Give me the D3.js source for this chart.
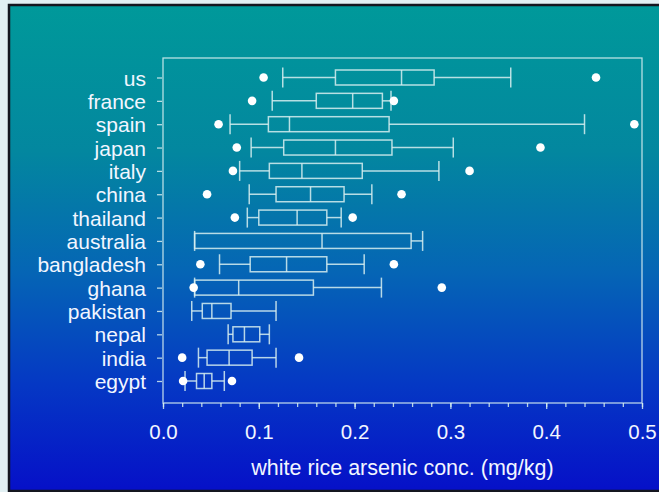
<!DOCTYPE html>
<html>
<head>
<meta charset="utf-8">
<script src="https://cdn.jsdelivr.net/npm/d3@7"></script>
<style>
  html, body { margin: 0; padding: 0; background: #e2f0f3; }
  svg { display: block; }
  text { font-family: Arial, "Liberation Sans", sans-serif; fill: #f2f6ff; }
</style>
</head>
<body>
<svg id="chart"></svg>
<script>
const WIDTH = 659;
const HEIGHT = 492;

// values (mg/kg)
const countries = ["us", "france", "spain", "japan", "italy", "china", "thailand",
  "australia", "bangladesh", "ghana", "pakistan", "nepal", "india", "egypt"];
const whiskerLow = [0.125, 0.114, 0.070, 0.092, 0.080, 0.090, 0.088, 0.033, 0.059, 0.033, 0.030, 0.068, 0.037, 0.023];
const q1 = [0.180, 0.160, 0.110, 0.126, 0.111, 0.118, 0.100, 0.033, 0.091, 0.033, 0.041, 0.073, 0.046, 0.035];
const median = [0.249, 0.198, 0.132, 0.180, 0.145, 0.154, 0.140, 0.166, 0.129, 0.079, 0.051, 0.085, 0.069, 0.043];
const q3 = [0.283, 0.229, 0.236, 0.239, 0.208, 0.189, 0.171, 0.259, 0.171, 0.157, 0.071, 0.101, 0.093, 0.051];
const whiskerHigh = [0.363, 0.238, 0.440, 0.303, 0.288, 0.218, 0.186, 0.271, 0.210, 0.228, 0.118, 0.111, 0.118, 0.064];
const outliers = [
  [0.105, 0.452],
  [0.093, 0.241],
  [0.058, 0.492],
  [0.077, 0.394],
  [0.073, 0.320],
  [0.046, 0.249],
  [0.075, 0.198],
  [],
  [0.039, 0.241],
  [0.032, 0.291],
  [],
  [],
  [0.020, 0.142],
  [0.021, 0.072],
];
const xTicks = [0, 0.1, 0.2, 0.3, 0.4, 0.5];
const xLabel = "white rice arsenic conc. (mg/kg)";

const rows = countries.map((name, i) => ({
  name,
  lo: whiskerLow[i],
  q1: q1[i],
  med: median[i],
  q3: q3[i],
  hi: whiskerHigh[i],
  out: outliers[i],
}));

const PLOT = { left: 163, right: 642, top: 58, bottom: 403 };
const LINE = "rgba(215, 238, 240, 0.85)";
const BOX_H = 15;
const CAP_H = 20;

const svg = d3.select("#chart").attr("width", WIDTH).attr("height", HEIGHT);

const grad = svg.append("defs").append("linearGradient")
  .attr("id", "bg").attr("x1", 0).attr("y1", 0).attr("x2", 0).attr("y2", 1);
[["0%", "#00999a"], ["30%", "#03879f"], ["55%", "#0565b5"], ["78%", "#0538c4"], ["100%", "#0610c8"]]
  .forEach(([o, c]) => grad.append("stop").attr("offset", o).attr("stop-color", c));

svg.append("rect")
  .attr("x", 9).attr("y", 5)
  .attr("width", WIDTH).attr("height", 486)
  .attr("fill", "url(#bg)")
  .attr("stroke", "#14161f").attr("stroke-width", 2.5);

const x = d3.scaleLinear().domain([0, 0.5]).range([PLOT.left, PLOT.right]);
const y = d3.scalePoint().domain(countries).range([77.5, 381]);

// frame
svg.append("rect")
  .attr("x", PLOT.left).attr("y", PLOT.top)
  .attr("width", PLOT.right - PLOT.left).attr("height", PLOT.bottom - PLOT.top)
  .attr("fill", "none").attr("stroke", LINE).attr("stroke-width", 1.3);

const styleAxis = (g) => {
  g.select(".domain").remove();
  g.selectAll("line").attr("stroke", LINE).attr("stroke-width", 1.3);
  g.selectAll("text").attr("fill", "#f2f6ff").attr("font-family", null);
};

// minor ticks
svg.append("g")
  .attr("transform", `translate(0,${PLOT.bottom})`)
  .call(d3.axisBottom(x).tickValues(d3.range(0, 0.51, 0.02)).tickSize(4).tickFormat(""))
  .call(styleAxis);

svg.append("g")
  .attr("transform", `translate(0,${PLOT.bottom})`)
  .call(d3.axisBottom(x).tickValues(xTicks).tickSize(6).tickPadding(15).tickFormat(d3.format(".1f")))
  .call(styleAxis)
  .call((g) => g.selectAll("text").attr("font-size", 20.5));

svg.append("g")
  .attr("transform", `translate(${PLOT.left - 1},0)`)
  .call(d3.axisLeft(y).tickSize(5).tickPadding(11))
  .call(styleAxis)
  .call((g) => g.selectAll("text").attr("font-size", 21).attr("dy", "0.36em"));

svg.append("text")
  .attr("x", (PLOT.left + PLOT.right) / 2)
  .attr("y", 475)
  .attr("text-anchor", "middle")
  .attr("font-size", 21.5)
  .text(xLabel);

const boxes = svg.append("g")
  .selectAll("g")
  .data(rows)
  .join("g")
  .attr("transform", (d) => `translate(0,${y(d.name)})`)
  .attr("stroke", LINE)
  .attr("stroke-width", 1.5)
  .attr("fill", "none");

boxes.append("line")
  .attr("x1", (d) => x(d.lo)).attr("x2", (d) => x(d.q1));
boxes.append("line")
  .attr("x1", (d) => x(d.q3)).attr("x2", (d) => x(d.hi));
boxes.append("line")
  .attr("x1", (d) => x(d.lo)).attr("x2", (d) => x(d.lo))
  .attr("y1", -CAP_H / 2).attr("y2", CAP_H / 2);
boxes.append("line")
  .attr("x1", (d) => x(d.hi)).attr("x2", (d) => x(d.hi))
  .attr("y1", -CAP_H / 2).attr("y2", CAP_H / 2);
boxes.append("rect")
  .attr("x", (d) => x(d.q1))
  .attr("width", (d) => x(d.q3) - x(d.q1))
  .attr("y", -BOX_H / 2).attr("height", BOX_H);
boxes.append("line")
  .attr("x1", (d) => x(d.med)).attr("x2", (d) => x(d.med))
  .attr("y1", -BOX_H / 2).attr("y2", BOX_H / 2);

boxes.selectAll("circle")
  .data((d) => d.out)
  .join("circle")
  .attr("cx", (d) => x(d))
  .attr("r", 4.3)
  .attr("fill", "#ffffff")
  .attr("stroke", "none");
</script>
</body>
</html>
